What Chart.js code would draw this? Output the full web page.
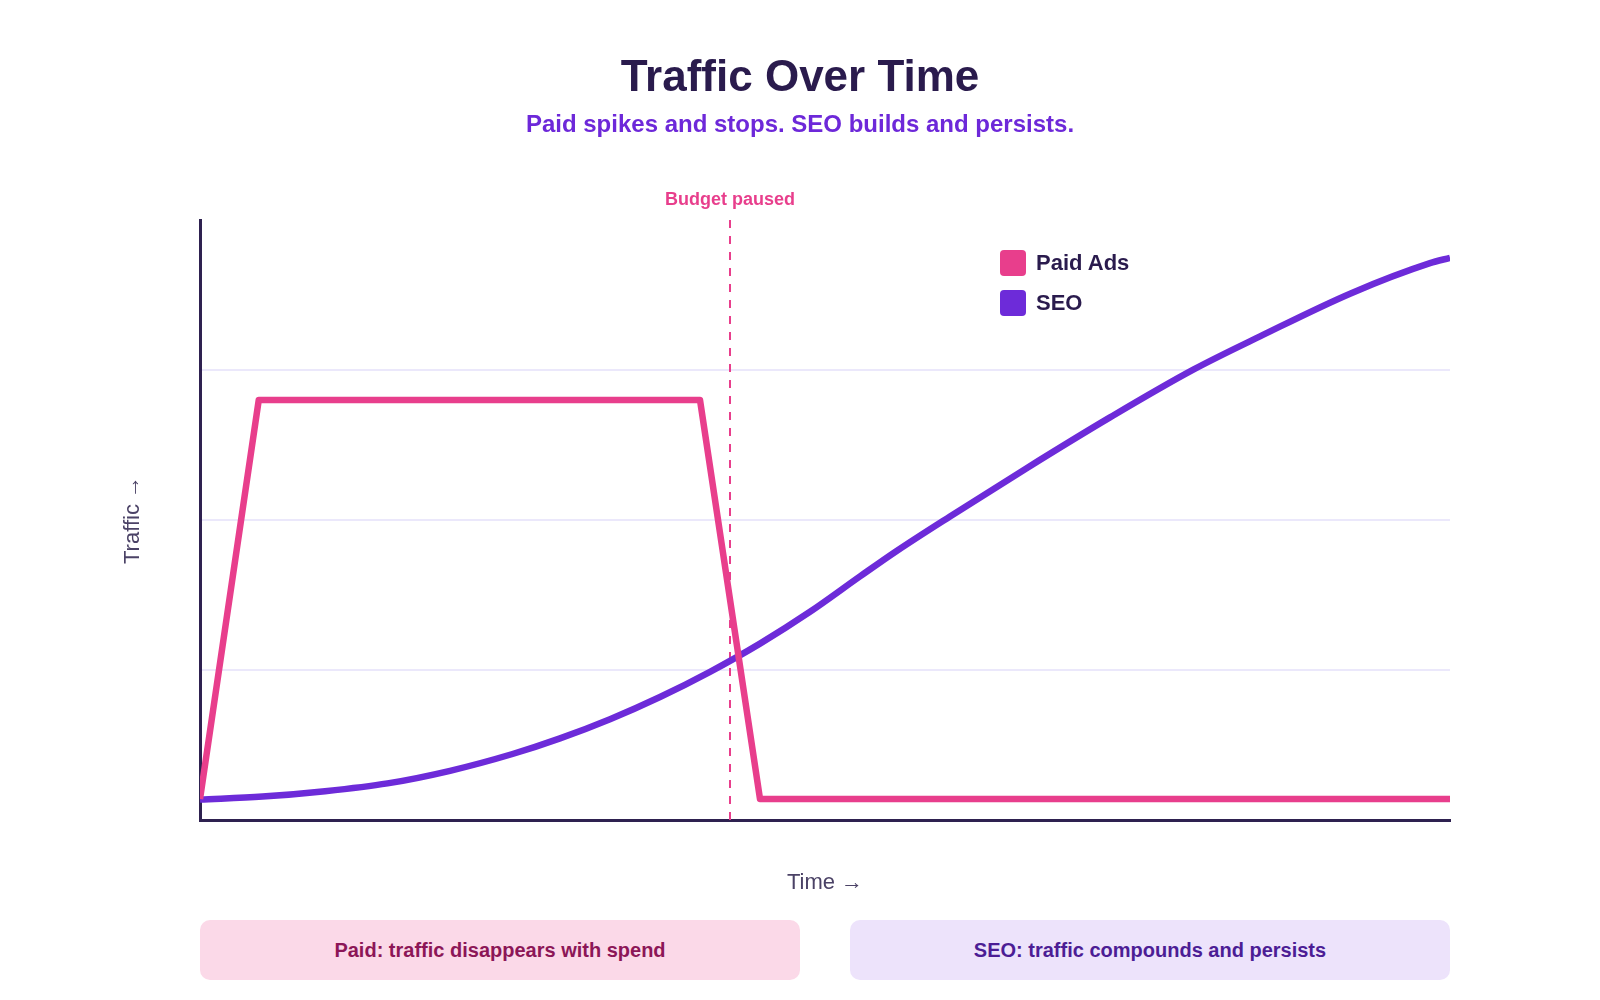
<!DOCTYPE html>
<html>
<head>
<meta charset="utf-8">
<script src="https://cdn.jsdelivr.net/npm/chart.js@4.4.1/dist/chart.umd.min.js"></script>
<style>
  html, body { margin: 0; padding: 0; background: #ffffff; }
  body { width: 1600px; height: 1000px; position: relative; overflow: hidden;
         font-family: "Liberation Sans", Arial, sans-serif; }
  #chartWrap { position: absolute; left: 0; top: 0; width: 1600px; height: 1000px; }
  .title { position: absolute; left: 0; width: 1600px; text-align: center; margin: 0; line-height: 1; white-space: nowrap; }
  #title { top: 54px; font-size: 44px; font-weight: 700; color: #2a1b4d; }
  #subtitle { top: 111.8px; font-size: 24px; font-weight: 700; color: #6d28d9; }
  .legend { position: absolute; left: 1000px; display: flex; align-items: center; height: 26px; }
  .legend .sw { width: 26px; height: 26px; border-radius: 4px; margin-right: 10px; }
  .legend .lb { font-size: 22px; font-weight: 700; color: #2a1b4d; line-height: 1; }
  .box { position: absolute; top: 920px; height: 60px; width: 600px; border-radius: 10px;
         display: flex; align-items: center; justify-content: center;
         font-size: 20px; font-weight: 700; line-height: 1; }
  #boxPaid { left: 200px; background: #fbd9e8; color: #8c1657; }
  #boxSeo { left: 850px; background: #ede3fb; color: #4c1d95; }
</style>
</head>
<body>
<div id="chartWrap"><canvas id="c" width="1600" height="1000"></canvas></div>
<div class="title" id="title">Traffic Over Time</div>
<div class="title" id="subtitle">Paid spikes and stops. SEO builds and persists.</div>
<div id="legendHost"></div>
<div class="box" id="boxPaid">Paid: traffic disappears with spend</div>
<div class="box" id="boxSeo">SEO: traffic compounds and persists</div>
<script>
// ---- Data ----
const seriesNames = ["Paid Ads", "SEO"];
const seriesColors = ["#e83e8c", "#6d2bd9"];

const paidX = [0, 4.7, 40, 44.8, 100];
const paidY = [3.5, 70, 70, 3.5, 3.5];

const seoX = [0, 5, 10, 15, 20, 25, 28.8, 32.8, 36.8, 40.8, 44.8, 48.8, 52.8, 55.7, 60, 66.1, 72.8, 79.5, 84.8, 92.1, 98.4, 100];
const seoY = [3.4, 3.9, 4.8, 6.1, 8.2, 11.0, 13.6, 16.8, 20.5, 24.7, 29.4, 34.7, 40.6, 44.8, 50.6, 58.6, 67.1, 75.1, 80.6, 87.8, 92.8, 93.7];

const budgetPausedX = 42.4;
const budgetPausedLabel = "Budget paused";
const xAxisTitle = "Time \u2192";
const yAxisTitle = "Traffic \u2192";
const yTicks = [0, 25, 50, 75, 100];

const FONT = '"Liberation Sans", Arial, sans-serif';

function pts(xs, ys) { return xs.map((x, i) => ({ x: x, y: ys[i] })); }

const budgetPlugin = {
  id: 'budgetPlugin',
  beforeDatasetsDraw(chart) {
    const { ctx, chartArea, scales } = chart;
    const px = scales.x.getPixelForValue(budgetPausedX);
    ctx.save();
    ctx.strokeStyle = seriesColors[0];
    ctx.lineWidth = 2;
    ctx.setLineDash([8, 8]);
    ctx.beginPath();
    ctx.moveTo(px, chartArea.top);
    ctx.lineTo(px, chartArea.bottom);
    ctx.stroke();
    ctx.restore();
  },
  afterDraw(chart) {
    const { ctx, chartArea, scales } = chart;
    const px = scales.x.getPixelForValue(budgetPausedX);
    ctx.save();
    ctx.fillStyle = seriesColors[0];
    ctx.font = 'bold 18px ' + FONT;
    ctx.textAlign = 'center';
    ctx.textBaseline = 'alphabetic';
    ctx.fillText(budgetPausedLabel, px, chartArea.top - 15);
    ctx.restore();
  }
};

const chart = new Chart(document.getElementById('c'), {
  type: 'line',
  data: {
    datasets: [
      {
        label: seriesNames[0],
        data: pts(paidX, paidY),
        borderColor: seriesColors[0],
        backgroundColor: seriesColors[0],
        borderWidth: 6.5,
        pointRadius: 0,
        tension: 0,
        borderJoinStyle: 'round',
        fill: false
      },
      {
        label: seriesNames[1],
        data: pts(seoX, seoY),
        borderColor: seriesColors[1],
        backgroundColor: seriesColors[1],
        borderWidth: 6.5,
        pointRadius: 0,
        cubicInterpolationMode: 'monotone',
        fill: false
      }
    ]
  },
  options: {
    responsive: false,
    animation: false,
    devicePixelRatio: 1,
    layout: { padding: { left: 0, right: 150, top: 220, bottom: 0 } },
    plugins: {
      legend: { display: false },
      tooltip: { enabled: false },
      title: { display: false }
    },
    scales: {
      x: {
        type: 'linear',
        min: 0, max: 100,
        ticks: { display: false },
        grid: { display: false, drawTicks: false },
        border: { display: true, color: '#2e2150', width: 3 },
        title: {
          display: true,
          text: xAxisTitle,
          color: '#4b4266',
          font: { family: FONT, size: 22, weight: 'normal', lineHeight: 1.2 },
          padding: { top: 49.4, bottom: 104.2 }
        }
      },
      y: {
        type: 'linear',
        min: yTicks[0], max: yTicks[yTicks.length - 1],
        afterBuildTicks(scale) { scale.ticks = yTicks.map(v => ({ value: v })); },
        ticks: { display: false },
        grid: {
          drawTicks: false,
          lineWidth: 2,
          color: (ctx) => (ctx.tick && (ctx.tick.value === 0 || ctx.tick.value === 100)) ? 'rgba(0,0,0,0)' : '#ebe8fb'
        },
        border: { display: true, color: '#2e2150', width: 3 },
        title: {
          display: true,
          text: yAxisTitle,
          color: '#4b4266',
          font: { family: FONT, size: 22, weight: 'normal', lineHeight: 1.2 },
          padding: { top: 119.5, bottom: 54.1 }
        }
      }
    }
  },
  plugins: [budgetPlugin]
});

// HTML legend built from the chart datasets
const host = document.getElementById('legendHost');
chart.data.datasets.forEach((ds, i) => {
  const row = document.createElement('div');
  row.className = 'legend';
  row.style.top = (250 + i * 40) + 'px';
  const sw = document.createElement('div');
  sw.className = 'sw';
  sw.style.background = ds.borderColor;
  const lb = document.createElement('div');
  lb.className = 'lb';
  lb.textContent = ds.label;
  row.appendChild(sw);
  row.appendChild(lb);
  host.appendChild(row);
});
</script>
</body>
</html>
